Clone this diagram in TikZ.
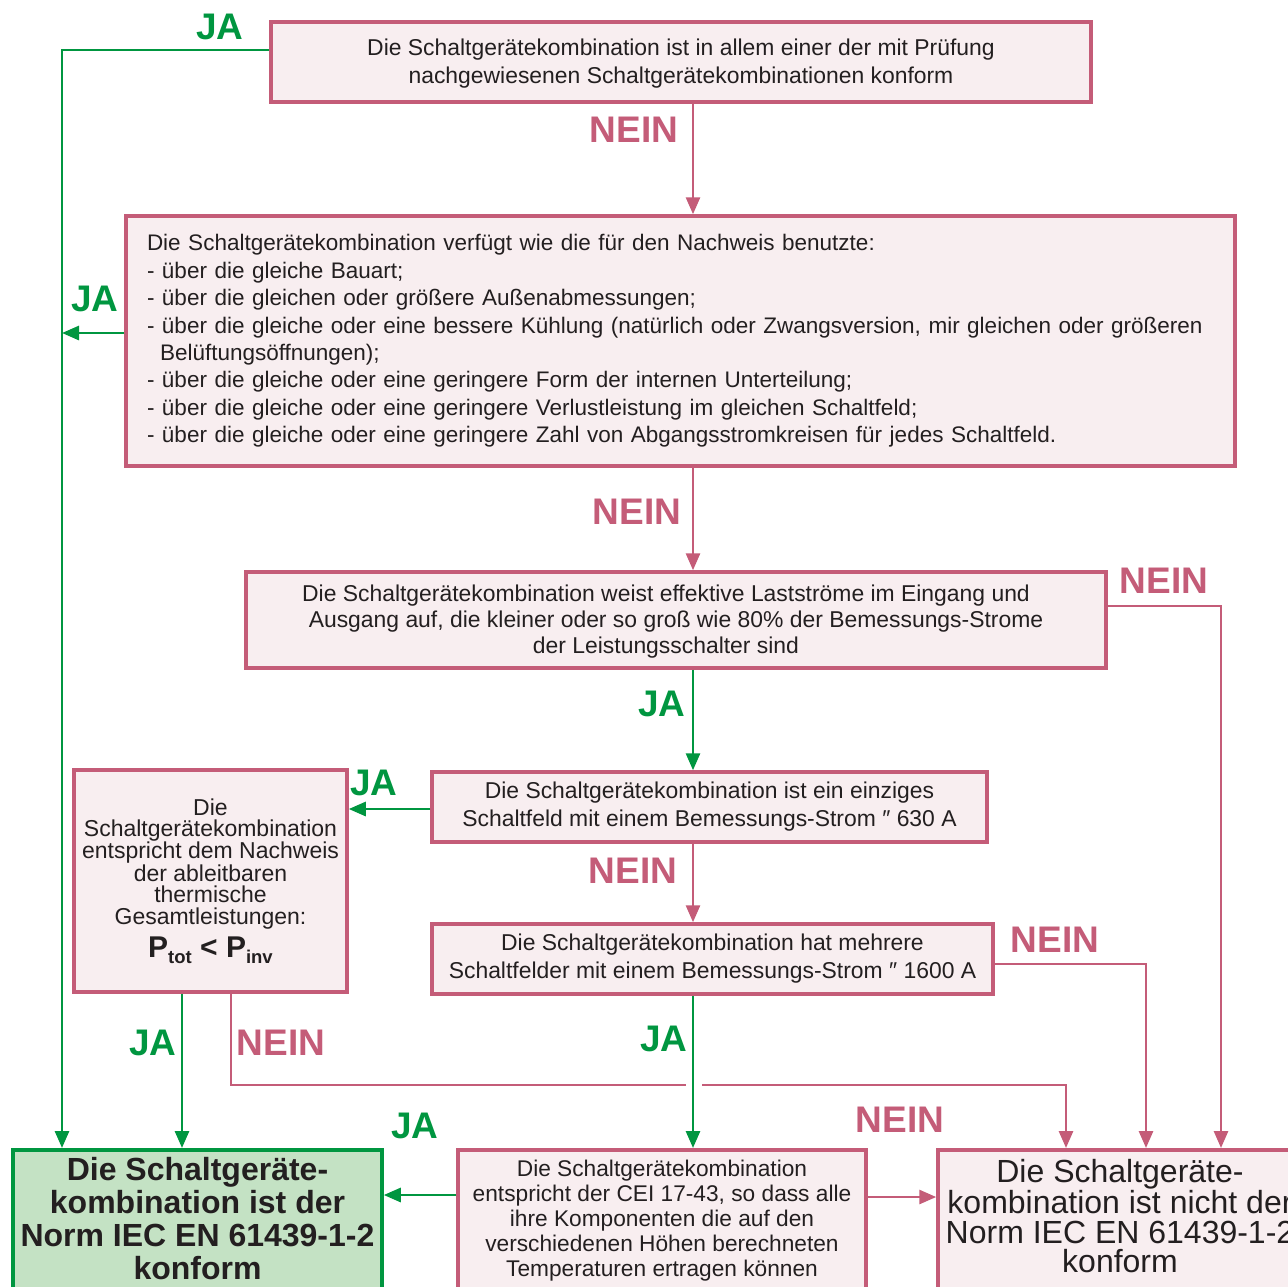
\documentclass[tikz,border=0pt]{standalone}
\usepackage{fontspec}
\setmainfont{Liberation Sans}
\usetikzlibrary{arrows.meta}
\definecolor{rosa}{RGB}{196,92,120}
\definecolor{rosafill}{RGB}{248,238,240}
\definecolor{gruen}{RGB}{0,150,64}
\definecolor{gruenfill}{RGB}{196,226,196}
\definecolor{schrift}{RGB}{35,31,32}
\tikzset{
  box/.style={draw=rosa,fill=rosafill,line width=3.5pt,text=schrift,inner sep=0pt,align=center,
    font=\fontsize{22.9}{27.3}\selectfont},
  jatext/.style={text=gruen,inner sep=0pt,font=\fontsize{37}{37}\selectfont\bfseries},
  neintext/.style={text=rosa,inner sep=0pt,font=\fontsize{37}{37}\selectfont\bfseries},
  jaline/.style={draw=gruen,line width=2.8pt,-{Triangle[length=17pt,width=14pt]}},
  neinline/.style={draw=rosa,line width=2.8pt,-{Triangle[length=17pt,width=14pt]}}
}
\begin{document}
\begin{tikzpicture}[x=1pt,y=-1pt]
\useasboundingbox (0,0) rectangle (1288,1286);
\clip (0,0) rectangle (1288,1286);
\fill[white] (0,0) rectangle (1288,1286);

% boxes
\node[box,minimum width=820,minimum height=80] (pruef) at (681,62)
  {\rule{0pt}{20pt}Die Schaltgerätekombination ist in allem einer der mit Prüfung\\
   nachgewiesenen Schaltgerätekombinationen konform};
\node[box,text width=1067,inner xsep=21,minimum height=250,align=left,
  font=\fontsize{22.5}{27.4}\selectfont] (bauart) at (680.5,341)
  {Die Schaltgerätekombination verfügt wie die für den Nachweis benutzte:\\
   - über die gleiche Bauart;\\
   - über die gleichen oder größere Außenabmessungen;\\
   - über die gleiche oder eine bessere Kühlung (natürlich oder Zwangsversion, mir gleichen oder größeren\\
   \hspace*{13pt}Belüftungsöffnungen);\\
   - über die gleiche oder eine geringere Form der internen Unterteilung;\\
   - über die gleiche oder eine geringere Verlustleistung im gleichen Schaltfeld;\\
   - über die gleiche oder eine geringere Zahl von Abgangsstromkreisen für jedes Schaltfeld.};
\node[box,minimum width=860,minimum height=96,font=\fontsize{22.9}{26}\selectfont] (strom) at (676,620)
  {\rule{0pt}{20pt}Die Schaltgerätekombination weist effektive Lastströme im Eingang und\hspace*{20pt}\\
   Ausgang auf, die kleiner oder so groß wie 80\% der Bemessungs-Strome\hspace*{20pt}\\
   der Leistungsschalter sind\hspace*{20pt}};
\node[box,minimum width=555,minimum height=70,font=\fontsize{22.9}{28}\selectfont] (einzel) at (709.5,807)
  {Die Schaltgerätekombination ist ein einziges\\
   Schaltfeld mit einem Bemessungs-Strom ″ 630 A};
\node[box,minimum width=561,minimum height=70,font=\fontsize{22.9}{28}\selectfont] (mehrere) at (712.5,959)
  {Die Schaltgerätekombination hat mehrere\\
   Schaltfelder mit einem Bemessungs-Strom ″ 1600 A};
\node[box,minimum width=273,minimum height=222,font=\fontsize{23}{21.4}\selectfont] (waerme) at (210.5,881)
  {Die\\ Schaltgerätekombination\\ entspricht dem Nachweis\\ der ableitbaren\\ thermische\\ Gesamtleistungen:\\[7pt]
   {\fontsize{30}{30}\selectfont\bfseries P\raisebox{-6pt}{\fontsize{18.5}{18.5}\selectfont tot} < P\raisebox{-6pt}{\fontsize{18.5}{18.5}\selectfont inv}}};
\node[box,anchor=north,minimum width=408,inner ysep=10,font=\fontsize{22.7}{25}\selectfont] (cei) at (662,1148)
  {Die Schaltgerätekombination\\
   entspricht der CEI 17-43, so dass alle\\
   ihre Komponenten die auf den\\
   verschiedenen Höhen berechneten\\
   Temperaturen ertragen können\rule[-20pt]{0pt}{0pt}};
\node[box,anchor=north,draw=gruen,fill=gruenfill,minimum width=369,inner ysep=8,
  font=\fontsize{32}{33}\selectfont\bfseries] (konform) at (197.5,1148)
  {Die Schaltgeräte-\\ kombination ist der\\ Norm IEC EN 61439-1-2\\ konform\rule[-20pt]{0pt}{0pt}};
\node[box,anchor=north,minimum width=364,inner ysep=10,font=\fontsize{32}{29.3}\selectfont] (nichtkonform) at (1120,1148)
  {Die Schaltgeräte-\\ kombination ist nicht der\\ Norm IEC EN 61439-1-2\\ konform\rule[-20pt]{0pt}{0pt}};

% hilfspunkte
\coordinate (links) at (62,50);
\coordinate (mitte) at (693,0);
\coordinate (rechtsA) at (1221,0);
\coordinate (rechtsB) at (1146,0);
\coordinate (rechtsC) at (1066,0);
\coordinate (jaunten) at (182,0);
\coordinate (neinunten) at (231,0);
\coordinate (kreuzA) at (686,1085);
\coordinate (kreuzB) at (702,1085);

% connectors
\draw[jaline] ([yshift=12pt]pruef.west) -- (links) -- (links |- konform.north);
\draw[jaline] ([yshift=8pt]bauart.west) -- ([yshift=8pt]bauart.west -| links);
\draw[neinline] (pruef.south -| mitte) -- (bauart.north -| mitte);
\draw[neinline] (bauart.south -| mitte) -- (strom.north -| mitte);
\draw[neinline] ([yshift=14pt]strom.east) -| (rechtsA |- nichtkonform.north);
\draw[jaline] (strom.south -| mitte) -- (einzel.north -| mitte);
\draw[jaline] ([yshift=-2pt]einzel.west) -- ([yshift=-2pt]einzel.west -| waerme.east);
\draw[neinline] (einzel.south -| mitte) -- (mehrere.north -| mitte);
\draw[neinline] ([yshift=-5pt]mehrere.east) -| (rechtsB |- nichtkonform.north);
\draw[jaline] (mehrere.south -| mitte) -- (cei.north -| mitte);
\draw[jaline] (waerme.south -| jaunten) -- (konform.north -| jaunten);
\draw[rosa,line width=2.8pt] (waerme.south -| neinunten) |- (kreuzA);
\draw[neinline] (kreuzB) -| (rechtsC |- nichtkonform.north);
\draw[jaline] ([yshift=-47pt]cei.north west) -- ([yshift=-47pt]cei.north west -| konform.east);
\draw[neinline] ([yshift=-49pt]cei.north east) -- ([yshift=-49pt]cei.north east -| nichtkonform.west);

% labels
\node[jatext] (ja1) at (220,27) {JA};
\node[jatext] (ja2) at (95,299) {JA};
\node[neintext] (nein1) at (634,130) {NEIN};
\node[neintext] (nein2) at (637,512) {NEIN};
\node[neintext] (nein3) at (1164,581) {NEIN};
\node[jatext] (ja3) at (662,704) {JA};
\node[jatext] (ja4) at (374,783) {JA};
\node[neintext] (nein4) at (633,871) {NEIN};
\node[neintext] (nein5) at (1055,940) {NEIN};
\node[jatext] (ja5) at (664,1039) {JA};
\node[jatext] (ja6) at (153,1043) {JA};
\node[neintext] (nein6) at (281,1043) {NEIN};
\node[jatext] (ja7) at (415,1126) {JA};
\node[neintext] (nein7) at (900,1120) {NEIN};
\end{tikzpicture}
\end{document}
